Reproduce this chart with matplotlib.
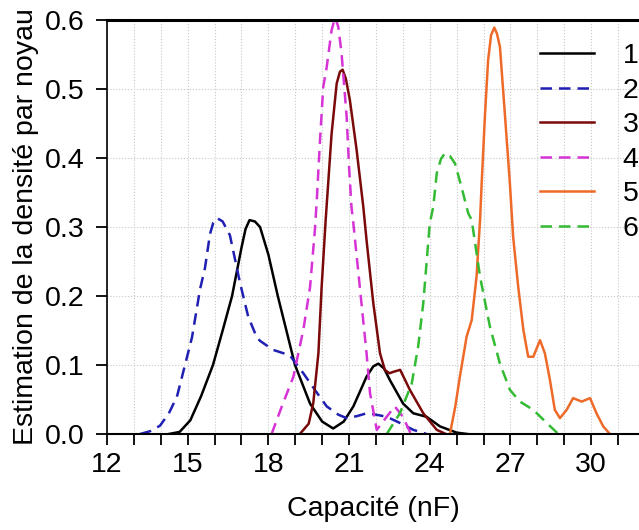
import matplotlib
matplotlib.use("Agg")
import matplotlib.pyplot as plt
from matplotlib.ticker import MultipleLocator

plt.rcParams['font.family'] = ['Liberation Sans', 'DejaVu Sans']

# density curves (x in nF, y = density)
c1_x = [14.3, 14.7, 15.1, 15.5, 15.94, 16.3, 16.65, 17.0, 17.15, 17.3, 17.5, 17.69,
        18.0, 18.35, 18.99, 19.55, 20.0, 20.41, 20.8, 21.16, 21.65, 21.9, 22.09,
        22.3, 22.52, 23.01, 23.39, 23.88, 24.38, 25.0, 25.4]
c1_y = [0.0, 0.003, 0.02, 0.055, 0.10, 0.15, 0.20, 0.27, 0.297, 0.31, 0.308, 0.30,
        0.26, 0.20, 0.10, 0.044, 0.018, 0.008, 0.018, 0.04, 0.083, 0.098, 0.102,
        0.095, 0.078, 0.044, 0.03, 0.025, 0.011, 0.002, 0.0]

c2_x = [13.23, 13.6, 13.97, 14.3, 14.6, 14.9, 15.16, 15.46, 15.64, 15.83, 15.95,
        16.09, 16.3, 16.57, 16.94, 17.25, 17.57, 17.69, 18.17, 18.8, 19.3, 19.8,
        20.17, 20.6, 20.91, 21.3, 21.65, 22.0, 22.4, 22.89, 23.39, 23.88]
c2_y = [0.0, 0.004, 0.012, 0.03, 0.054, 0.10, 0.14, 0.21, 0.24, 0.29, 0.306,
        0.313, 0.308, 0.288, 0.22, 0.17, 0.14, 0.135, 0.122, 0.114, 0.088, 0.06,
        0.04, 0.028, 0.023, 0.026, 0.03, 0.028, 0.025, 0.016, 0.006, 0.0]

c3_x = [19.17, 19.5, 19.67, 19.86, 19.98, 20.13, 20.35, 20.54, 20.66, 20.76, 20.88,
        21.03, 21.28, 21.53, 21.65, 21.9, 22.15, 22.33, 22.5, 22.64, 22.9, 23.26,
        23.76, 24.26, 24.6]
c3_y = [0.0, 0.015, 0.045, 0.117, 0.213, 0.31, 0.435, 0.508, 0.525, 0.528, 0.515,
        0.484, 0.412, 0.329, 0.281, 0.19, 0.117, 0.093, 0.088, 0.09, 0.093, 0.064,
        0.03, 0.006, 0.0]

c4_x = [18.12, 18.5, 18.93, 19.3, 19.55, 19.73, 19.8, 19.92, 20.04, 20.17, 20.35,
        20.48, 20.6, 20.72, 20.91, 21.0, 21.09, 21.16, 21.4, 21.65, 21.78, 22.03,
        22.4, 22.7, 23.0, 23.3]
c4_y = [0.0, 0.04, 0.083, 0.151, 0.213, 0.296, 0.339, 0.426, 0.503, 0.532, 0.585,
        0.604, 0.59, 0.552, 0.46, 0.387, 0.329, 0.305, 0.213, 0.117, 0.059, 0.006,
        0.025, 0.04, 0.025, 0.0]

c5_x = [24.75, 24.95, 25.12, 25.37, 25.56, 25.74, 25.87, 25.93, 26.05, 26.17, 26.28,
        26.4, 26.5, 26.61, 26.8, 26.98, 27.1, 27.29, 27.48, 27.66, 27.85, 28.1, 28.28,
        28.47, 28.65, 28.84, 29.09, 29.33, 29.65, 29.96, 30.2, 30.45, 30.7]
c5_y = [0.0, 0.04, 0.083, 0.141, 0.165, 0.228, 0.31, 0.363, 0.46, 0.542, 0.578,
        0.589, 0.58, 0.561, 0.46, 0.363, 0.286, 0.213, 0.151, 0.112, 0.112, 0.136,
        0.117, 0.078, 0.035, 0.023, 0.035, 0.052, 0.047, 0.052, 0.03, 0.011, 0.0]

c6_x = [22.4, 22.89, 23.33, 23.57, 23.76, 24.0, 24.13, 24.26, 24.42, 24.57, 24.75,
        24.94, 25.18, 25.43, 25.56, 25.87, 26.24, 26.61, 26.98, 27.35, 27.85, 28.35,
        28.78]
c6_y = [0.0, 0.03, 0.073, 0.127, 0.19, 0.305, 0.329, 0.378, 0.399, 0.407, 0.403,
        0.392, 0.358, 0.32, 0.31, 0.228, 0.155, 0.102, 0.064, 0.047, 0.035, 0.016,
        0.0]

labels = ["1", "2", "3", "4", "5", "6"]
x_ticks = [12, 15, 18, 21, 24, 27, 30]
y_ticks = [0.0, 0.1, 0.2, 0.3, 0.4, 0.5, 0.6]

series = [
    (c1_x, c1_y, "#000000", "-"),
    (c2_x, c2_y, "#1f1fb4", "--"),
    (c3_x, c3_y, "#7a0a0a", "-"),
    (c4_x, c4_y, "#d633d6", "--"),
    (c5_x, c5_y, "#ee6a28", "-"),
    (c6_x, c6_y, "#33bb33", "--"),
]

FS = 20.5

fig = plt.figure(figsize=(6.39, 5.30), dpi=100)
ax = fig.add_axes([107 / 639, 96 / 530, 532 / 639, 414 / 530])

for (xs, ys, col, ls), lab in zip(series, labels):
    line, = ax.plot(xs, ys, color=col, linestyle=ls, lw=1.8, label=lab)
    if ls == "--":
        line.set_dashes((4.6, 2.8))

ax.set_xlim(12, 31.78)
ax.set_ylim(0, 0.6)
ax.set_xticks(x_ticks)
ax.xaxis.set_minor_locator(MultipleLocator(1))
ax.set_yticks(y_ticks)
ax.set_yticklabels([f"{v:.1f}" for v in y_ticks])

# dotted grid every 1 nF and every 0.1
for xv in range(12, 32):
    ax.axvline(xv, color="#c8c8c8", lw=0.8, ls=":", zorder=0)
for yv in y_ticks[1:]:
    ax.axhline(yv, color="#c8c8c8", lw=0.8, ls=":", zorder=0)

ax.tick_params(axis="both", which="both", direction="out", length=8, width=1.3,
               labelsize=FS, colors="black")
ax.tick_params(axis="x", which="both", pad=5)
ax.tick_params(axis="y", pad=8)

ax.spines["right"].set_visible(False)
ax.spines["top"].set_linewidth(2.2)
ax.spines["bottom"].set_linewidth(1.5)
ax.spines["left"].set_linewidth(1.2)

ax.set_xlabel("Capacité (nF)", fontsize=FS, labelpad=13)
ax.set_ylabel("Estimation de la densité par noyau", fontsize=FS, labelpad=4)

leg = ax.legend(loc="upper left", bbox_to_anchor=(540 / 639, 1 - 43 / 530),
                bbox_transform=fig.transFigure, frameon=False, fontsize=FS,
                handlelength=1.9, handletextpad=1.0, labelspacing=0.3,
                borderpad=0, borderaxespad=0)

fig.savefig("out.png", dpi=100)
